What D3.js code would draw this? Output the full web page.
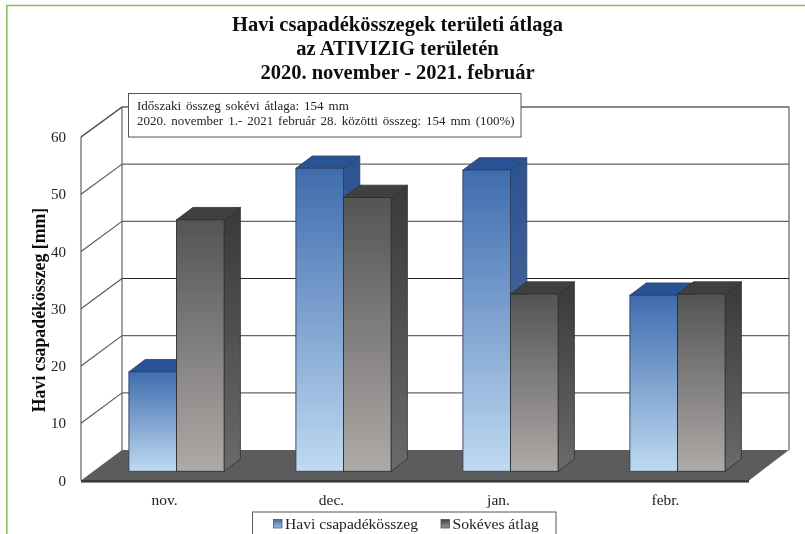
<!DOCTYPE html>
<html>
<head>
<meta charset="utf-8">
<script src="https://cdn.jsdelivr.net/npm/d3@7"></script>
<style>
	html, body { margin: 0; padding: 0; background: #fff; overflow: hidden; }
	svg { display: block; }
	text { font-family: "Liberation Serif", serif; }
</style>
</head>
<body>
<svg id="chart" width="805" height="534"></svg>
<script>
var months = ["nov.", "dec.", "jan.", "febr."];
var haviCsapadek = [17.4, 53.0, 52.7, 30.8];
var sokevesAtlag = [44.0, 47.9, 31.0, 31.0];
var seriesNames = ["Havi csapadékösszeg", "Sokéves átlag"];
var yTicks = [0, 10, 20, 30, 40, 50, 60];
var titleLines = ["Havi csapadékösszegek területi átlaga", "az ATIVIZIG területén", "2020. november - 2021. február"];
var noteLines = ["Időszaki összeg sokévi átlaga: 154 mm", "2020. november 1.- 2021 február 28. közötti összeg: 154 mm (100%)"];
var yTitle = "Havi csapadékösszeg [mm]";

var root = d3.select("#chart");
var defs = root.append("defs");
defs.append("filter").attr("id", "soft").attr("filterUnits", "userSpaceOnUse")
	.attr("x", 0).attr("y", 0).attr("width", 805).attr("height", 534)
	.append("feGaussianBlur").attr("stdDeviation", 0.35);
// the reference is a slightly soft scan, so everything goes through one small blur
var svg = root.append("g").attr("filter", "url(#soft)");

// 3d box: front plane of the floor, back wall, and the plane the bars stand in
var yFront = d3.scaleLinear().domain([0, 60]).range([480.5, 137]);
var yBack = d3.scaleLinear().domain([0, 60]).range([450, 107]);
var yBar = d3.scaleLinear().domain([0, 60]).range([471.3, 128.3]);
var xBand = d3.scaleBand().domain(months).range([81, 749]);
var xSeries = d3.scaleBand().domain([0, 1]).range([0, 95.2]);
var wallDx = 41, barShift = 12, barDx = 16.3, barDy = 12.3;
var x0 = xBand.range()[0], x1 = xBand.range()[1];

function gradient(id, top, bottom) {
	var g = defs.append("linearGradient").attr("id", id).attr("x1", 0).attr("y1", 0).attr("x2", 0).attr("y2", 1);
	g.append("stop").attr("offset", "0%").attr("stop-color", top);
	g.append("stop").attr("offset", "100%").attr("stop-color", bottom);
}
gradient("blueFront", "#3f6cae", "#bfdaf1");
gradient("blueSide", "#2c5291", "#55759f");
gradient("grayFront", "#545454", "#aeaaa8");
gradient("graySide", "#393939", "#6a6a6a");
gradient("legBlue", "#3f6cae", "#9dbfe4");
gradient("legGray", "#444", "#999");

// green frame of the picture
svg.append("path").attr("d", "M806,5.5H6.8V535").attr("fill", "none").attr("stroke", "#86c062").attr("stroke-width", 1.6);

var plot = svg.append("g");

// walls
plot.append("path").attr("d", d3.line()([[x0, yFront(60)], [x0 + wallDx, yBack(60)], [x1 + wallDx - 1, yBack(60)], [x1 + wallDx - 1, yBack(0)]]))
	.attr("fill", "none").attr("stroke", "#555").attr("stroke-width", 1.1);
plot.append("line").attr("x1", x0).attr("x2", x0).attr("y1", yFront(60)).attr("y2", yFront(0)).attr("stroke", "#555").attr("stroke-width", 1.1);
plot.append("line").attr("x1", x0 + wallDx).attr("x2", x0 + wallDx).attr("y1", yBack(60)).attr("y2", yBack(0)).attr("stroke", "#555").attr("stroke-width", 1.1);

// grid lines, back wall and side wall
var grid = plot.selectAll(".grid").data(yTicks.filter(function(d){return d > 0;})).enter().append("g").attr("class", "grid");
grid.append("line").attr("x1", x0 + wallDx).attr("x2", x1 + wallDx - 1)
	.attr("y1", function(d){return yBack(d);}).attr("y2", function(d){return yBack(d);})
	.attr("stroke", function(d){return d === 30 ? "#222" : "#666";}).attr("stroke-width", 1.1);
grid.append("line").attr("x1", x0).attr("x2", x0 + wallDx)
	.attr("y1", function(d){return yFront(d);}).attr("y2", function(d){return yBack(d);})
	.attr("stroke", "#555").attr("stroke-width", 1.1);

// floor
var floorPts = [[x0, yFront(0)], [x0 + wallDx, yBack(0)], [x1 + wallDx - 1, yBack(0)], [x1, yFront(0)]];
plot.append("polygon").attr("points", floorPts.join(" ")).attr("fill", "#5c5c5c");
plot.append("rect").attr("x", x0).attr("y", yFront(0) - 0.5).attr("width", x1 - x0).attr("height", 2.6).attr("fill", "#3b3b3b");

function drawBars(values, idx, front, side, cap, edge) {
	var left = function(i){return xBand(months[i]) + (xBand.bandwidth() - 95.2) / 2 + barShift + xSeries(idx);};
	var w = xSeries.bandwidth();
	var g = plot.selectAll(".bar" + idx).data(values).enter().append("g").attr("class", "bar" + idx);
	g.append("polygon").attr("fill", "url(#" + side + ")").attr("stroke", edge).attr("stroke-width", 0.8)
		.attr("points", function(d, i){
			var x = left(i) + w;
			return [[x, yBar(d)], [x + barDx, yBar(d) - barDy], [x + barDx, yBar(0) - barDy], [x, yBar(0)]].join(" ");
		});
	g.append("polygon").attr("fill", cap).attr("stroke", edge).attr("stroke-width", 0.8)
		.attr("points", function(d, i){
			var x = left(i);
			return [[x, yBar(d)], [x + w, yBar(d)], [x + w + barDx, yBar(d) - barDy], [x + barDx, yBar(d) - barDy]].join(" ");
		});
	g.append("rect").attr("x", function(d, i){return left(i);}).attr("width", w)
		.attr("y", function(d){return yBar(d);}).attr("height", function(d){return yBar(0) - yBar(d);})
		.attr("fill", "url(#" + front + ")").attr("stroke", edge).attr("stroke-width", 0.9);
}
drawBars(haviCsapadek, 0, "blueFront", "blueSide", "#2c5295", "#2c405f");
drawBars(sokevesAtlag, 1, "grayFront", "graySide", "#414141", "#2e2e2e");

// axes
var yAxis = svg.append("g").attr("transform", "translate(" + x0 + ",0)")
	.call(d3.axisLeft(yFront).tickValues(yTicks).tickSize(0).tickPadding(15));
yAxis.attr("font-family", null).attr("font-size", null);
yAxis.select(".domain").remove();
yAxis.selectAll("text").style("font-size", "15px").attr("fill", "#222").attr("dy", "0.3em");

var xAxis = svg.append("g").attr("transform", "translate(0," + yFront(0) + ")")
	.call(d3.axisBottom(xBand).tickSize(0).tickPadding(13));
xAxis.attr("font-family", null).attr("font-size", null);
xAxis.select(".domain").remove();
xAxis.selectAll("text").style("font-size", "15.5px").attr("fill", "#222");

svg.append("text").attr("transform", "translate(45,310) rotate(-90)").attr("text-anchor", "middle")
	.style("font-size", "17.8px").style("font-weight", "bold").attr("fill", "#111").text(yTitle);

// title
svg.selectAll(".title").data(titleLines).enter().append("text").attr("class", "title")
	.attr("x", 397.5).attr("y", function(d, i){return 30.8 + i * 24;})
	.attr("text-anchor", "middle").style("font-size", "20.5px").style("font-weight", "bold").attr("fill", "#111")
	.text(function(d){return d;});

// note box
svg.append("rect").attr("x", 128.5).attr("y", 93.5).attr("width", 392.5).attr("height", 43.5)
	.attr("fill", "#fff").attr("stroke", "#555").attr("stroke-width", 1);
svg.selectAll(".note").data(noteLines).enter().append("text").attr("class", "note")
	.attr("x", 137).attr("y", function(d, i){return 110 + i * 15;})
	.style("font-size", "13px").style("word-spacing", "1.7px").attr("fill", "#222")
	.text(function(d){return d;});

// legend, cut off by the bottom edge
svg.append("rect").attr("x", 252.5).attr("y", 512).attr("width", 303.5).attr("height", 30)
	.attr("fill", "#fff").attr("stroke", "#555").attr("stroke-width", 1);
var legX = d3.scaleOrdinal().domain(seriesNames).range([273.5, 441]);
var legFill = d3.scaleOrdinal().domain(seriesNames).range(["url(#legBlue)", "url(#legGray)"]);
var leg = svg.selectAll(".leg").data(seriesNames).enter().append("g").attr("class", "leg");
leg.append("rect").attr("x", function(d){return legX(d);}).attr("y", 519.5).attr("width", 8.5).attr("height", 8.5)
	.attr("fill", function(d){return legFill(d);}).attr("stroke", "#444").attr("stroke-width", 0.7);
leg.append("text").attr("x", function(d){return legX(d) + 11.5;}).attr("y", 528.5)
	.style("font-size", "15.6px").attr("fill", "#222").text(function(d){return d;});
</script>
</body>
</html>
